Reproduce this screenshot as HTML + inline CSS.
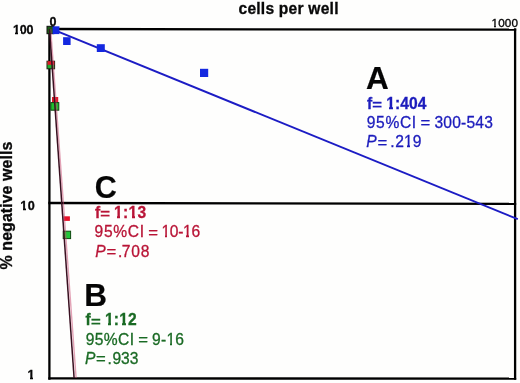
<!DOCTYPE html>
<html><head><meta charset="utf-8"><style>
html,body{margin:0;padding:0;background:#fefefd;}
body{width:520px;height:383px;overflow:hidden;position:relative;}
svg{position:absolute;left:0;top:0;will-change:transform;}
text{font-family:"Liberation Sans",sans-serif;}
</style></head><body>
<svg width="520" height="383" viewBox="0 0 520 383">
<!-- frame -->
<g stroke="#000" stroke-width="2.3" fill="none">
<line x1="49.4" y1="28.2" x2="49.4" y2="379.7"/>
<line x1="48.3" y1="29.0" x2="516.2" y2="29.7"/>
<line x1="515.1" y1="28.2" x2="515.1" y2="379.7"/>
<line x1="48.3" y1="378.3" x2="516.2" y2="378.7"/>
<line x1="48.3" y1="203.0" x2="516.2" y2="203.8"/>
</g>
<!-- blue line -->
<line x1="55.7" y1="30.6" x2="517.8" y2="219.2" stroke="#1c1cc4" stroke-width="1.9"/>
<!-- markers B/C -->
<rect x="47" y="26.3" width="6.8" height="7.4" fill="#1c5a14" stroke="#101010" stroke-width="1"/>
<rect x="52.6" y="26.3" width="6.8" height="7.8" fill="#1428e0"/>
<rect x="47" y="61.2" width="7.6" height="7.6" fill="#1fb030" stroke="#202010" stroke-width="1"/>
<rect x="47.5" y="61.2" width="6.8" height="3.6" fill="#e01828"/>
<rect x="52" y="97" width="6.2" height="6" fill="#e01828"/>
<rect x="50.8" y="102.6" width="8" height="7.6" fill="#20c030" stroke="#104010" stroke-width="1"/>
<rect x="63.6" y="216.3" width="6.3" height="4.6" fill="#e8102a"/>
<rect x="63.2" y="231.2" width="7.4" height="7.4" fill="#20c838" stroke="#104a10" stroke-width="1"/>
<!-- blue markers -->
<rect x="63.1" y="37.2" width="7.5" height="7.8" fill="#1428e0"/>
<rect x="96.8" y="44.2" width="8" height="7.8" fill="#1428e0"/>
<rect x="200" y="68.8" width="8.2" height="8.2" fill="#1428e0"/>
<!-- B/C lines -->
<line x1="50.7" y1="29" x2="76.1" y2="378" stroke="#c84870" stroke-width="1.4" opacity="0.5"/>
<line x1="49.5" y1="29" x2="74.1" y2="378" stroke="#3a1020" stroke-width="1.5"/>

<text id="t_cells" x="238.5" y="14.1" font-size="15.6" font-weight="bold" letter-spacing="0.223" fill="#080808" stroke="#080808" stroke-width="0.3">cells per well</text>
<text id="t_0" x="49.6" y="26.4" font-size="12.5" font-weight="bold" fill="#080808" stroke="#080808" stroke-width="0.3">0</text>
<text id="t_1000" x="491.5" y="26.8" font-size="11.7" letter-spacing="0.15" fill="#080808" stroke="#080808" stroke-width="0.35">1000</text>
<text id="t_100" x="12.95" y="33.6" font-size="12.5" font-weight="bold" letter-spacing="-0.2" fill="#080808" stroke="#080808" stroke-width="0.3">100</text>
<text id="t_10" x="20.35" y="210.4" font-size="12.6" font-weight="bold" letter-spacing="0.3" fill="#080808" stroke="#080808" stroke-width="0.3">10</text>
<text id="t_1" x="27.5" y="378.9" font-size="12.6" font-weight="bold" fill="#080808" stroke="#080808" stroke-width="0.3">1</text>
<text transform="translate(12.3,268.9) rotate(-90)" x="-0.5" y="0" font-size="16" font-weight="bold" letter-spacing="0.037" fill="#080808" stroke="#080808" stroke-width="0.3">% negative wells</text>
<text id="t_A" x="365.9" y="88.8" font-size="31.5" font-weight="bold" fill="#050505" stroke="#050505" stroke-width="0.2">A</text>
<g fill="#1c1cbc">
<text id="t_fA_f" x="366.98" y="108.5" font-size="15.6" font-weight="bold" fill="#1c1cbc" stroke="#1c1cbc" stroke-width="0.3">f</text>
<text transform="translate(377.01,108.80) scale(1.07,0.87)" x="-4.56" y="0" font-size="15.6" font-weight="bold" fill="#1c1cbc" stroke="#1c1cbc" stroke-width="0.3">=</text>
<text id="t_fA_n" x="386.35" y="108.5" font-size="15.6" font-weight="bold" letter-spacing="0.062" fill="#1c1cbc" stroke="#1c1cbc" stroke-width="0.3">1:404</text>
<text id="t_ciA_t" x="366.8" y="127.6" font-size="15.6" letter-spacing="0.649" fill="#1c1cbc" stroke="#1c1cbc" stroke-width="0.3">95%CI</text>
<text transform="translate(425.45,128.40) scale(1.07,0.92)" x="-4.55" y="0" font-size="15.6" fill="#1c1cbc" stroke="#1c1cbc" stroke-width="0.3">=</text>
<text id="t_ciA_n" x="434.5" y="127.6" font-size="15.6" letter-spacing="0.191" fill="#1c1cbc" stroke="#1c1cbc" stroke-width="0.3">300-543</text>
<text id="t_PA" x="366.23" y="146.8" font-size="15.6" font-style="italic" fill="#1c1cbc" stroke="#1c1cbc" stroke-width="0.3">P</text>
<text transform="translate(382.35,147.60) scale(1.07,0.92)" x="-4.55" y="0" font-size="15.6" fill="#1c1cbc" stroke="#1c1cbc" stroke-width="0.3">=</text>
<text id="t_dotA" x="390.33" y="146.8" font-size="15.6" fill="#1c1cbc" stroke="#1c1cbc" stroke-width="0.3">.</text>
<text id="t_numA" x="395.15" y="146.8" font-size="15.6" letter-spacing="0.15" fill="#1c1cbc" stroke="#1c1cbc" stroke-width="0.3">219</text>
</g>
<text id="t_C" x="94.65" y="197.8" font-size="30.5" font-weight="bold" fill="#050505" stroke="#050505" stroke-width="0.2">C</text>
<g fill="#b81436">
<text id="t_fC_f" x="95.12" y="217.6" font-size="15.6" font-weight="bold" fill="#b81436" stroke="#b81436" stroke-width="0.3">f</text>
<text transform="translate(105.21,217.90) scale(1.07,0.87)" x="-4.56" y="0" font-size="15.6" font-weight="bold" fill="#b81436" stroke="#b81436" stroke-width="0.3">=</text>
<text id="t_fC_n" x="113.95" y="217.6" font-size="15.6" font-weight="bold" letter-spacing="0.366" fill="#b81436" stroke="#b81436" stroke-width="0.3">1:13</text>
<text id="t_ciC_t" x="94.6" y="236.9" font-size="15.6" letter-spacing="0.651" fill="#b81436" stroke="#b81436" stroke-width="0.3">95%CI</text>
<text transform="translate(153.05,237.70) scale(1.07,0.92)" x="-4.55" y="0" font-size="15.6" fill="#b81436" stroke="#b81436" stroke-width="0.3">=</text>
<text id="t_ciC_n" x="161.5" y="236.9" font-size="15.6" letter-spacing="-0.312" fill="#b81436" stroke="#b81436" stroke-width="0.3">10-16</text>
<text id="t_PC" x="95.17" y="256.5" font-size="15.6" font-style="italic" fill="#b81436" stroke="#b81436" stroke-width="0.3">P</text>
<text transform="translate(111.40,257.30) scale(1.07,0.92)" x="-4.55" y="0" font-size="15.6" fill="#b81436" stroke="#b81436" stroke-width="0.3">=</text>
<text id="t_dotC" x="117.88" y="256.5" font-size="15.6" fill="#b81436" stroke="#b81436" stroke-width="0.3">.</text>
<text id="t_numC" x="121.65" y="256.5" font-size="15.6" letter-spacing="0.875" fill="#b81436" stroke="#b81436" stroke-width="0.3">708</text>
</g>
<text id="t_B" x="84.22" y="306.4" font-size="31.5" font-weight="bold" fill="#050505" stroke="#050505" stroke-width="0.2">B</text>
<g fill="#1a6a24">
<text id="t_fB_f" x="85.62" y="325.4" font-size="15.6" font-weight="bold" fill="#1a6a24" stroke="#1a6a24" stroke-width="0.3">f</text>
<text transform="translate(95.76,325.70) scale(1.07,0.87)" x="-4.56" y="0" font-size="15.6" font-weight="bold" fill="#1a6a24" stroke="#1a6a24" stroke-width="0.3">=</text>
<text id="t_fB_n" x="105.05" y="325.4" font-size="15.6" font-weight="bold" letter-spacing="0.15" fill="#1a6a24" stroke="#1a6a24" stroke-width="0.3">1:12</text>
<text id="t_ciB_t" x="85.7" y="344.6" font-size="15.6" letter-spacing="0.401" fill="#1a6a24" stroke="#1a6a24" stroke-width="0.3">95%CI</text>
<text transform="translate(143.05,345.40) scale(1.07,0.92)" x="-4.55" y="0" font-size="15.6" fill="#1a6a24" stroke="#1a6a24" stroke-width="0.3">=</text>
<text id="t_ciB_n" x="152.0" y="344.6" font-size="15.6" letter-spacing="0.266" fill="#1a6a24" stroke="#1a6a24" stroke-width="0.3">9-16</text>
<text id="t_PB" x="85.07" y="363.5" font-size="15.6" font-style="italic" fill="#1a6a24" stroke="#1a6a24" stroke-width="0.3">P</text>
<text transform="translate(100.75,364.30) scale(1.07,0.92)" x="-4.55" y="0" font-size="15.6" fill="#1a6a24" stroke="#1a6a24" stroke-width="0.3">=</text>
<text id="t_dotB" x="107.38" y="363.5" font-size="15.6" fill="#1a6a24" stroke="#1a6a24" stroke-width="0.3">.</text>
<text id="t_numB" x="112.5" y="363.5" font-size="15.6" letter-spacing="-0.05" fill="#1a6a24" stroke="#1a6a24" stroke-width="0.3">933</text>
</g>
<g fill="#fefefd" shape-rendering="crispEdges"><rect x="491" y="25" width="3" height="3"/><rect x="496" y="25" width="2" height="3"/><rect x="13" y="31" width="2" height="4"/><rect x="18" y="31" width="3" height="4"/><rect x="20" y="208" width="3" height="3"/><rect x="26" y="208" width="2" height="3"/><rect x="27" y="377" width="3" height="3"/><rect x="33" y="377" width="2" height="3"/><rect x="386" y="106" width="3" height="4"/><rect x="393" y="106" width="3" height="4"/><rect x="404" y="145" width="3" height="3"/><rect x="410" y="145" width="3" height="3"/><rect x="114" y="215" width="3" height="4"/><rect x="120" y="215" width="3" height="4"/><rect x="129" y="215" width="3" height="4"/><rect x="135" y="215" width="3" height="4"/><rect x="162" y="235" width="3" height="3"/><rect x="167" y="235" width="3" height="3"/><rect x="183" y="235" width="3" height="3"/><rect x="189" y="235" width="3" height="3"/><rect x="105" y="323" width="3" height="3"/><rect x="111" y="323" width="3" height="3"/><rect x="119" y="323" width="3" height="3"/><rect x="126" y="323" width="2" height="3"/><rect x="167" y="342" width="3" height="4"/><rect x="172" y="342" width="3" height="4"/></g>
</svg>
</body></html>
